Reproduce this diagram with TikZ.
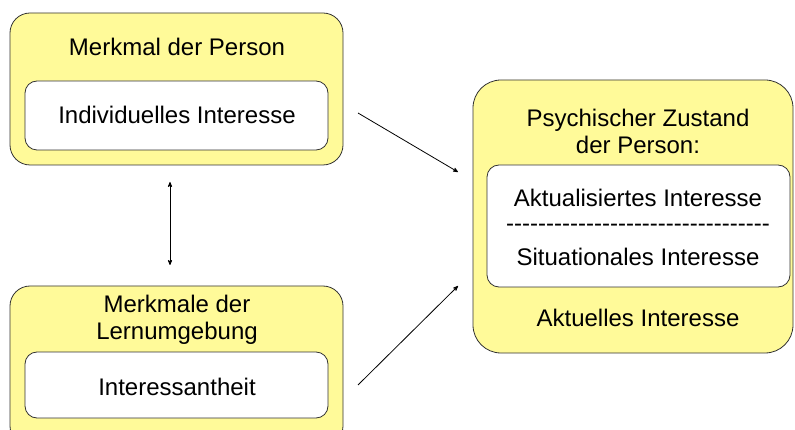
\documentclass[tikz,border=0pt]{standalone}
\usepackage{fontspec}
\setmainfont{Liberation Sans}
\usetikzlibrary{arrows}

\begin{document}
\begin{tikzpicture}[x=1pt,y=-1pt,>=stealth',line width=0.8pt,
        outerbox/.style={draw=black!80,fill=yellow!40,rounded corners=20pt,inner sep=0pt},
        innerbox/.style={draw=black!80,fill=white,rounded corners=12pt,inner sep=0pt},
        txt/.style={font=\fontsize{24}{27}\selectfont,align=center,inner sep=0pt}]

    \useasboundingbox (0,0) rectangle (795,430);

    % Merkmal der Person
    \node[outerbox,minimum width=333pt,minimum height=152pt] (person) at (176.5,89) {};
    \node[innerbox,minimum width=303pt,minimum height=69pt] (indiv) at (176.5,115.5) {};
    \node[txt] (personlbl) at (177,47) {Merkmal der Person};
    \node[txt] (indivlbl) at (177,115) {Individuelles Interesse};

    % Merkmale der Lernumgebung
    \node[outerbox,minimum width=333pt,minimum height=160pt] (umgebung) at (176.5,366) {};
    \node[innerbox,minimum width=303pt,minimum height=66pt] (inter) at (176.5,385) {};
    \node[txt] (umgebunglbl) at (177,320) {Merkmale der\\Lernumgebung};
    \node[txt] (interlbl) at (177,387) {Interessantheit};

    % Psychischer Zustand
    \node[outerbox,rounded corners=28pt,minimum width=320pt,minimum height=273pt] (zustand) at (633,216.5) {};
    \node[innerbox,minimum width=303pt,minimum height=122pt] (aktuell) at (638.5,226) {};
    \node[txt] (zustandlbl) at (638,131) {Psychischer Zustand\\der Person:};
    \node[txt] (aktlbl) at (638,198) {Aktualisiertes Interesse};
    \node[txt] (strich) at (638,228) {\foreach \k in {1,...,33}{-}};
    \node[txt] (sitlbl) at (638,257) {Situationales Interesse};
    \node[txt] (aktuelllbl) at (638,318) {Aktuelles Interesse};

    \coordinate (p1) at (358,113);
    \coordinate (z1) at (458,172);
    \coordinate (u1) at (358,385);
    \coordinate (z2) at (458,286);
    \coordinate (w1) at (170,182);
    \coordinate (w2) at (170,265);

    \path[->] (p1) edge (z1);
    \path[->] (u1) edge (z2);
    \path[<->] (w1) edge (w2);

\end{tikzpicture}
\end{document}
